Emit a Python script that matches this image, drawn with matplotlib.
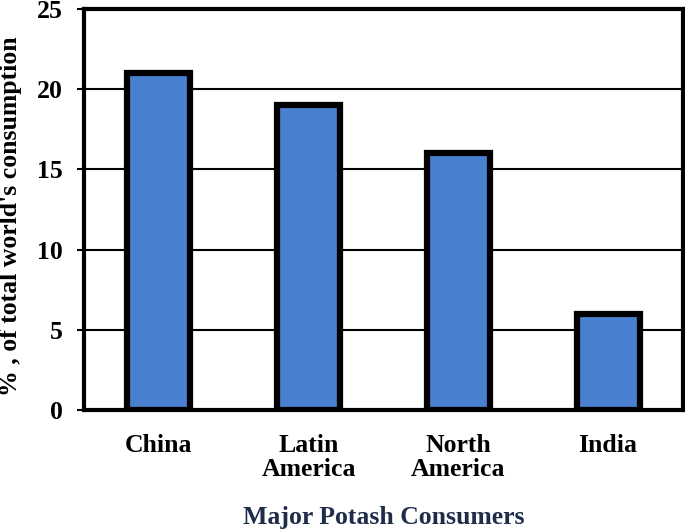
import matplotlib.pyplot as plt
from matplotlib import rcParams

rcParams['font.family'] = 'serif'
rcParams['font.serif'] = ['Liberation Serif']
rcParams['font.weight'] = 'bold'

consumers = ["China", "Latin\nAmerica", "North\nAmerica", "India"]
share = [21, 19, 16, 6]
yticks = [0, 5, 10, 15, 20, 25]

fig = plt.figure(figsize=(6.85, 5.3), dpi=100)
ax = fig.add_axes([0.1226, 0.2264, 0.8744, 0.7566])

ax.bar(range(len(consumers)), share, width=0.42, color="#4a80d0",
       edgecolor="black", linewidth=4.5, zorder=3)

ax.set_xlim(-0.5, len(consumers) - 0.5)
ax.set_ylim(0, 25)
ax.set_yticks(yticks)
ax.yaxis.grid(True, color="black", linewidth=1.5, zorder=0)
ax.set_axisbelow(True)

ax.set_xticks(range(len(consumers)))
ax.set_xticklabels(consumers, fontsize=18.5, fontweight="bold", linespacing=1.1)
ax.tick_params(axis="x", length=0, pad=17)
ax.tick_params(axis="y", labelsize=18.5, length=5, width=1.5, pad=10)
for lab in ax.get_yticklabels():
    lab.set_fontweight("bold")

for s in ax.spines.values():
    s.set_linewidth(3)

ax.set_ylabel("% , of total world's consumption", fontsize=18.5, fontweight="bold")
ax.yaxis.set_label_coords(-0.104, 0.484)
ax.set_xlabel("Major Potash Consumers", fontsize=18.5, fontweight="bold", color="#1f2d4a", labelpad=18)

fig.savefig("out.png", dpi=100)
